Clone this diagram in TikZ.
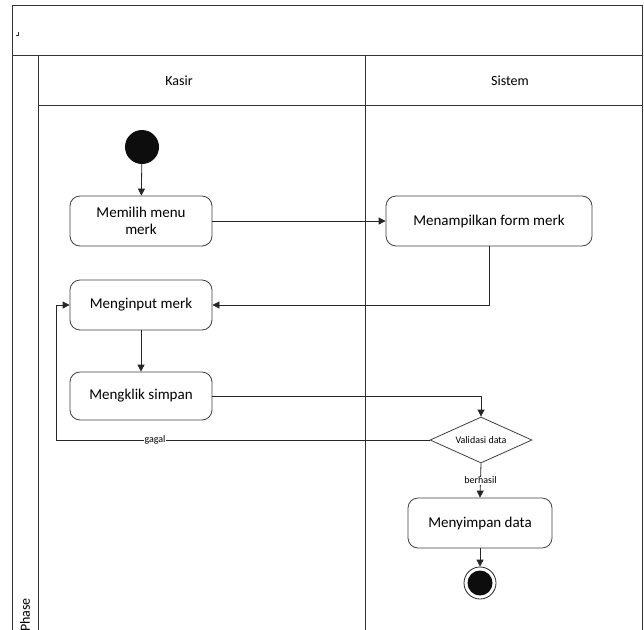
\documentclass[tikz,border=0pt]{standalone}
\usepackage{fontspec}
\setmainfont{Carlito}
\usetikzlibrary{arrows.meta,shapes.geometric}
\begin{document}
\begin{tikzpicture}[x=1pt,y=-1pt,
  frame/.style={draw=black!80,line width=0.9pt},
  action/.style={draw=black!75,line width=0.8pt,rounded corners=10pt,fill=white,
    minimum width=142pt,minimum height=50pt,align=center,font=\fontsize{15}{17}\selectfont,inner sep=2pt},
  decision/.style={draw=black!75,line width=0.8pt,diamond,aspect=2.2,fill=white,
    minimum width=102pt,minimum height=46pt,inner sep=0pt,font=\fontsize{10}{12}\selectfont},
  flow/.style={draw=black!85,line width=0.8pt,-{Triangle[length=7pt,width=7pt]}},
  lanehead/.style={font=\fontsize{14}{16}\selectfont},
  guard/.style={font=\fontsize{10}{12}\selectfont,fill=white,inner sep=0.5pt}]
\useasboundingbox (0,0) rectangle (644,629);
\fill[white] (0,0) rectangle (644,629);

% swimlane frame
\draw[frame] (12,640) -- (12,5) -- (642,5) -- (642,640);
\draw[frame] (12,55) -- (642,55);
\draw[frame] (38,55) -- (38,640);
\draw[frame] (38,105) -- (642,105);
\draw[frame] (365,55) -- (365,640);
\draw[black!80,line width=0.6pt] (16,35) -- (18,35) -- (18,32);
\node[lanehead] (kasir) at (179,81) {Kasir};
\node[lanehead] (sistem) at (510,81) {Sistem};
\node[lanehead,rotate=90] (phase) at (25,615) {Phase};

% activities
\node[circle,fill=black!95,minimum size=34pt,inner sep=0pt] (start) at (142,147) {};
\node[action] (pilih) at (141,221) {Memilih menu\\merk};
\node[action,minimum width=206pt] (tampil) at (489,221) {Menampilkan form merk};
\node[action] (input) at (141,305) {Menginput merk};
\node[action,minimum height=48pt] (klik) at (141,396) {Mengklik simpan};
\node[decision] (valid) at (481,440) {Validasi data};
\node[action,minimum width=144pt] (simpan) at (480,523) {Menyimpan data};
\node[circle,draw=black!85,line width=0.8pt,minimum size=32pt,inner sep=0pt] (end) at (480,583) {};
\node[circle,fill=black!95,minimum size=25pt,inner sep=0pt] (endin) at (end.center) {};

% transitions
\draw[flow] (start) -- (pilih);
\draw[flow] (pilih) -- (tampil);
\draw[flow] (tampil.south) |- (input.east);
\draw[flow] (input) -- (klik);
\draw[flow] (klik.east) -| (valid.north);
\draw[flow] (valid.west) -- (56,440) |- (input.west)
  node[guard,pos=0,xshift=99pt] (gagal) {gagal};
\draw[flow] (valid.south) -- (simpan.north)
  node[guard,midway] (berhasil) {berhasil};
\draw[flow] (simpan) -- (end);
\end{tikzpicture}
\end{document}
